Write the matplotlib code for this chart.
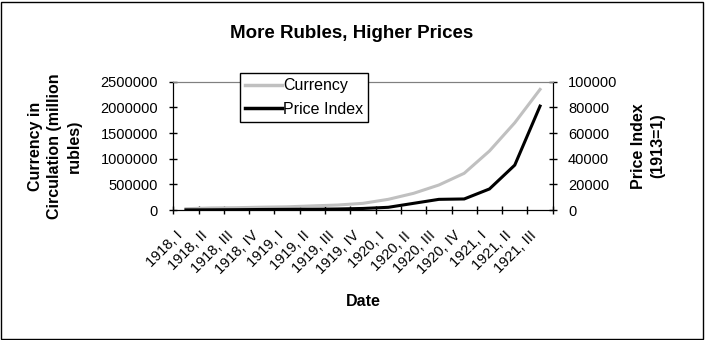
import matplotlib
matplotlib.use("Agg")
import matplotlib.pyplot as plt
import matplotlib.transforms as mtransforms
from matplotlib.lines import Line2D
import numpy as np

plt.rcParams['font.family'] = ['Liberation Sans', 'DejaVu Sans']

dates = ['1918, I', '1918, II', '1918, III', '1918, IV',
         '1919, I', '1919, II', '1919, III', '1919, IV',
         '1920, I', '1920, II', '1920, III', '1920, IV',
         '1921, I', '1921, II', '1921, III']
currency = [25000, 40000, 45000, 55000, 62000, 80000, 97000, 130000,
            208000, 325000, 487000, 715000, 1150000, 1700000, 2350000]
price_index = [100, 150, 250, 400, 500, 600, 800, 1200,
               2100, 5200, 8300, 8600, 16400, 35000, 81000]
left_ticks = [0, 500000, 1000000, 1500000, 2000000, 2500000]
right_ticks = [0, 20000, 40000, 60000, 80000, 100000]

W, H = 705, 340
fig = plt.figure(figsize=(W / 100, H / 100), dpi=100)

# outer chart border
fig.add_artist(plt.Rectangle((0.5 / W, 1.5 / H), 702.5 / W, 337 / H,
                             transform=fig.transFigure, fill=False,
                             edgecolor='black', linewidth=1))

x0, x1, y0, y1 = 173.3, 552.7, 81.7, 210
ax = fig.add_axes([x0 / W, 1 - y1 / H, (x1 - x0) / W, (y1 - y0) / H])
ax2 = ax.twinx()

x = np.arange(len(dates))
ax.plot(x, currency, color='#c0c0c0', lw=2.2, solid_joinstyle='miter')
ax2.plot(x, price_index, color='black', lw=2.2, solid_joinstyle='miter')

ax.set_xlim(-0.5, len(dates) - 0.5)
ax.set_ylim(0, 2500000)
ax2.set_ylim(0, 100000)

ax.set_yticks(left_ticks)
ax.set_yticklabels([str(v) for v in left_ticks], fontsize=10.5)
ax2.set_yticks(right_ticks)
ax2.set_yticklabels([str(v) for v in right_ticks], fontsize=10.5)

ax.set_xticks(np.arange(-0.5, len(dates)), labels=[])
ax.set_xticks(x, minor=True)
ax.set_xticklabels(dates, minor=True, rotation=45, ha='right', va='center',
                   rotation_mode='anchor', fontsize=10.5)
ax.tick_params(axis='x', which='major', direction='inout', length=6, width=1)
ax.tick_params(axis='x', which='minor', length=0, pad=17)
ax.tick_params(axis='y', direction='inout', length=6, width=1, pad=8)
ax2.tick_params(axis='y', direction='inout', length=6, width=1, pad=8)

shift = mtransforms.ScaledTranslation(-4 / 72, 0, fig.dpi_scale_trans)
for lab in ax.get_xticklabels(minor=True):
    lab.set_transform(lab.get_transform() + shift)

for a in (ax, ax2):
    a.spines['top'].set_color('#808080')
    a.spines['left'].set_color('black')
    a.spines['right'].set_color('black')
    a.spines['bottom'].set_color('black')
    a.patch.set_alpha(0)

fig.text(352 / W, 1 - 33 / H, 'More Rubles, Higher Prices', ha='center',
         va='center', fontsize=13.5, fontweight='bold')
fig.text(363 / W, 1 - 302 / H, 'Date', ha='center', va='center',
         fontsize=11.5, fontweight='bold')
fig.text(55 / W, 1 - 146 / H, 'Currency in\nCirculation (million\nrubles)',
         ha='center', va='center', rotation=90, fontsize=11.5,
         fontweight='bold', linespacing=1.4, multialignment='center')
fig.text(648 / W, 1 - 146 / H, 'Price Index\n(1913=1)', ha='center',
         va='center', rotation=90, fontsize=11.5, fontweight='bold',
         linespacing=1.4, multialignment='center')

handles = [Line2D([], [], color='#c0c0c0', lw=2.5),
           Line2D([], [], color='black', lw=2.5)]
leg = fig.legend(handles, ['Currency', 'Price Index'], loc='upper left',
                 bbox_to_anchor=(240 / W, 1 - 73.3 / H), fontsize=11.5,
                 frameon=True, fancybox=False, edgecolor='black',
                 framealpha=1, handlelength=2.3, handletextpad=0.1,
                 labelspacing=0.55, borderpad=0.3, borderaxespad=0)
leg.get_frame().set_linewidth(1)

fig.savefig('out.png', dpi=100)
